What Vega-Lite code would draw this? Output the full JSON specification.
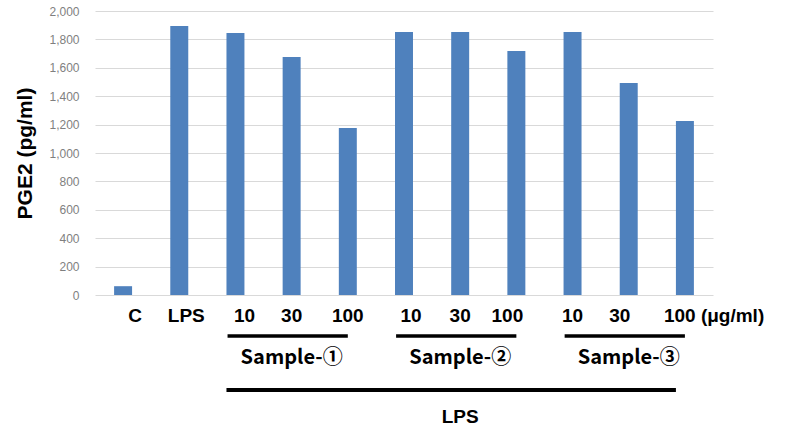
{
  "$schema": "https://vega.github.io/schema/vega-lite/v6.json",
  "padding": {"left": 14, "top": 5, "right": 0, "bottom": 0},
  "background": "white",
  "config": {"view": {"stroke": null}, "concat": {"spacing": 9}},
  "datasets": {
    "bars": [
      {"group": "C", "pge2": 62},
      {"group": "LPS", "pge2": 1894},
      {"group": "S1-10", "pge2": 1845},
      {"group": "S1-30", "pge2": 1676},
      {"group": "S1-100", "pge2": 1176},
      {"group": "S2-10", "pge2": 1852},
      {"group": "S2-30", "pge2": 1852},
      {"group": "S2-100", "pge2": 1718},
      {"group": "S3-10", "pge2": 1852},
      {"group": "S3-30", "pge2": 1493},
      {"group": "S3-100", "pge2": 1225}
    ],
    "annot": [
      {"level": "Sample", "start": "S1-10", "end": "S1-100", "center": "S1-30", "label": "Sample-①"},
      {"level": "Sample", "start": "S2-10", "end": "S2-100", "center": "S2-30", "label": "Sample-②"},
      {"level": "Sample", "start": "S3-10", "end": "S3-100", "center": "S3-30", "label": "Sample-③"},
      {"level": "LPS", "start": "S1-10", "end": "S3-100", "center": "S2-30", "label": "LPS"}
    ]
  },
  "vconcat": [
    {
      "width": 618,
      "height": 284,
      "data": {"name": "bars"},
      "mark": {"type": "bar", "color": "#4F81BD"},
      "encoding": {
        "x": {
          "field": "group",
          "type": "nominal",
          "sort": null,
          "scale": {
            "domain": ["C", "LPS", "S1-10", "S1-30", "S1-100", "S2-10", "S2-30", "S2-100", "S3-10", "S3-30", "S3-100"],
            "paddingInner": 0.68,
            "paddingOuter": 0.34
          },
          "axis": {
            "title": null,
            "domain": false,
            "ticks": false,
            "labelAngle": 0,
            "labelFont": "Liberation Sans",
            "labelFontWeight": "bold",
            "labelFontSize": 19,
            "labelColor": "#000000",
            "labelPadding": 11,
            "labelExpr": "datum.value == 'S3-100' ? '100 (μg/ml)' : (indexof(datum.value, '-') >= 0 ? substring(datum.value, indexof(datum.value, '-') + 1) : datum.value)",
            "labelAlign": {"condition": {"test": "datum.value == 'S3-100'", "value": "left"}, "value": "center"},
            "labelOffset": {"condition": [
              {"test": "datum.value == 'S3-100'", "value": -21},
              {"test": "datum.value == 'C'", "value": 12},
              {"test": "datum.value == 'LPS'", "value": 7},
              {"test": "datum.value == 'S1-10'", "value": 9},
              {"test": "datum.value == 'S2-10'", "value": 7},
              {"test": "datum.value == 'S2-100'", "value": -9},
              {"test": "datum.value == 'S3-30'", "value": -9}
            ], "value": 0}
          }
        },
        "y": {
          "field": "pge2",
          "type": "quantitative",
          "scale": {"domain": [0, 2000], "nice": false},
          "axis": {
            "title": "PGE2 (pg/ml)",
            "titleFont": "Liberation Sans",
            "titleFontSize": 21,
            "titleFontWeight": "bold",
            "titleColor": "#000000",
            "titlePadding": 13,
            "values": [0, 200, 400, 600, 800, 1000, 1200, 1400, 1600, 1800, 2000],
            "format": ",.0f",
            "labelFont": "Liberation Sans",
            "labelFontSize": 12,
            "labelColor": "#7f7f7f",
            "labelPadding": 16,
            "domain": false,
            "ticks": false,
            "grid": true,
            "gridColor": "#d9d9d9",
            "gridWidth": 1
          }
        }
      }
    },
    {
      "width": 618,
      "height": 54,
      "data": {"name": "annot"},
      "encoding": {
        "y": {"field": "level", "type": "nominal", "scale": {"type": "point", "domain": ["Sample", "LPS"], "padding": 0}, "axis": null}
      },
      "layer": [
        {
          "transform": [{"filter": "datum.level == 'Sample'"}],
          "mark": {"type": "rule", "strokeWidth": 3.5, "color": "#000000"},
          "encoding": {
            "x": {"field": "start", "type": "nominal", "bandPosition": 0.06, "axis": null,
              "scale": {"domain": ["C", "LPS", "S1-10", "S1-30", "S1-100", "S2-10", "S2-30", "S2-100", "S3-10", "S3-30", "S3-100"], "paddingInner": 0.68, "paddingOuter": 0.34}},
            "x2": {"field": "end", "bandPosition": 0.5}
          }
        },
        {
          "transform": [{"filter": "datum.level == 'LPS'"}],
          "mark": {"type": "rule", "strokeWidth": 4, "color": "#000000"},
          "encoding": {
            "x": {"field": "start", "type": "nominal", "bandPosition": 0, "axis": null},
            "x2": {"field": "end", "bandPosition": 0}
          }
        },
        {
          "transform": [{"filter": "datum.level == 'Sample'"}],
          "mark": {"type": "text", "font": "Noto Sans CJK KR", "fontWeight": "bold", "fontSize": 20, "color": "#000000", "baseline": "middle", "dy": 22},
          "encoding": {
            "x": {"field": "center", "type": "nominal", "axis": null},
            "text": {"field": "label"}
          }
        },
        {
          "transform": [{"filter": "datum.level == 'LPS'"}],
          "mark": {"type": "text", "font": "Liberation Sans", "fontWeight": "bold", "fontSize": 19, "color": "#000000", "baseline": "middle", "dy": 27},
          "encoding": {
            "x": {"field": "center", "type": "nominal", "axis": null},
            "text": {"field": "label"}
          }
        }
      ]
    }
  ]
}
